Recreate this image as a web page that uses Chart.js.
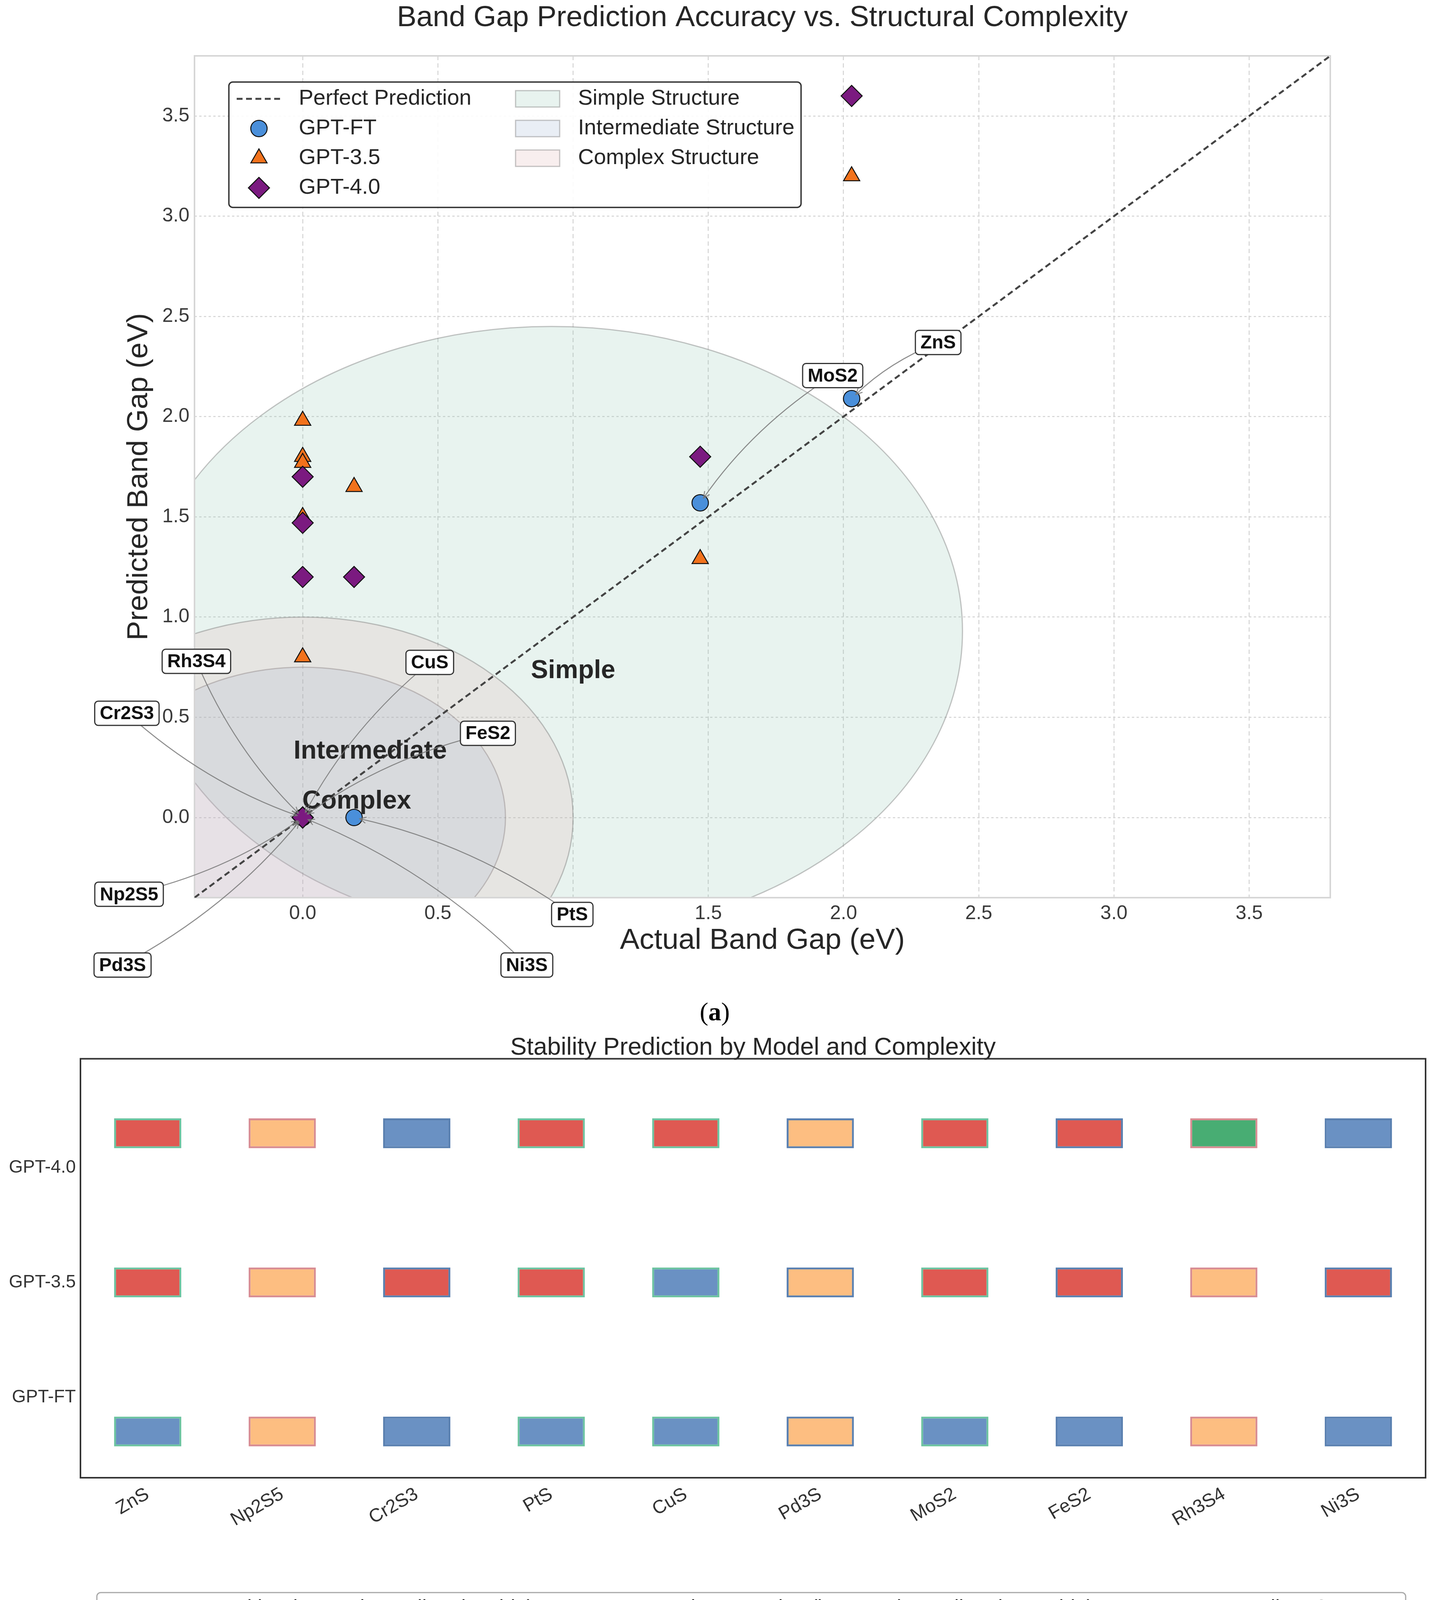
<!DOCTYPE html>
<html>
<head>
<meta charset="utf-8">
<script src="https://cdn.jsdelivr.net/npm/chart.js@4.4.1/dist/chart.umd.min.js"></script>
<style>
  html, body { margin: 0; padding: 0; background: #fff; }
  body { width: 3669px; height: 4475px; position: relative; overflow: hidden; }
  #bandGap { position: absolute; left: 0; top: 0; }
  #stability { position: absolute; left: 0; top: 2600px; }
  .cap { position: absolute; width: 300px; text-align: center; font-family: "Liberation Serif", "DejaVu Serif", serif; font-size: 66px; color: #000; line-height: 1; }
</style>
</head>
<body>
<canvas id="bandGap" width="3669" height="2560"></canvas>
<div class="cap" style="left:1680px; top:2557px;">(<b>a</b>)</div>
<canvas id="stability" width="3669" height="1800"></canvas>
<div class="cap" style="left:1678px; top:4380px;">(<b>b</b>)</div>

<script>
// ---- data: panel (a) ----
const materials = ['ZnS', 'Np2S5', 'Cr2S3', 'PtS', 'CuS', 'Pd3S', 'MoS2', 'FeS2', 'Rh3S4', 'Ni3S'];
const actualGap = [2.03, 0, 0, 0.19, 0, 0, 1.47, 0, 0, 0];
const gptFTGap  = [2.09, 0, 0, 0, 0, 0, 1.57, 0, 0, 0];
const gpt35Gap  = [3.20, 1.98, 1.80, 1.65, 1.77, 1.50, 1.29, 0.80, 0, 0];
const gpt40Gap  = [3.60, 1.70, 1.47, 1.20, 1.20, 0, 1.80, 0, 0, 0];
const gapRange  = [-0.4, 3.8];
const gapTicks  = [0, 0.5, 1.0, 1.5, 2.0, 2.5, 3.0, 3.5];

// structure regions (drawn as circles in data units)
const regionNames   = ['Simple', 'Intermediate', 'Complex'];
const regionCenterX = [0.92, 0, 0];
const regionCenterY = [0.93, 0, 0];
const regionRadius  = [1.52, 0.75, 1.0];

// ---- data: panel (b) ----
const models = ['GPT-FT', 'GPT-3.5', 'GPT-4.0'];
const modelRow = [0, 1, 2];
const modelTick = [0.23, 1, 1.77];
const outcomeGPTFT = ['TN', 'FN', 'TN', 'TN', 'TN', 'FN', 'TN', 'TN', 'FN', 'TN'];
const outcomeGPT35 = ['FP', 'FN', 'FP', 'FP', 'TN', 'FN', 'FP', 'FP', 'FN', 'FP'];
const outcomeGPT40 = ['FP', 'FN', 'TN', 'FP', 'FP', 'FN', 'FP', 'FP', 'TP', 'TN'];
const structure = ['Simple', 'Complex', 'Intermediate', 'Simple', 'Simple', 'Intermediate', 'Simple', 'Intermediate', 'Complex', 'Intermediate'];

// ---- styles ----
const FONT = '"Liberation Sans", Arial, sans-serif';
Chart.defaults.font.family = FONT;
Chart.defaults.color = '#333';

const regionFill = ['rgba(140,195,175,0.2)', 'rgba(144,168,207,0.2)', 'rgba(222,168,169,0.2)'];
const regionText = { Simple: [1.0, 0.73], Intermediate: [0.25, 0.33], Complex: [0.2, 0.08] };
// label box anchor for each material (data units)
const labelAt = {
  ZnS: [2.35, 2.37], MoS2: [1.96, 2.205], Rh3S4: [-0.393, 0.779], CuS: [0.47, 0.774],
  Cr2S3: [-0.65, 0.52], FeS2: [0.685, 0.42], Np2S5: [-0.642, -0.383], PtS: [0.997, -0.484],
  Pd3S: [-0.666, -0.736], Ni3S: [0.829, -0.736]
};
const arrowBend = 0.1;

const outcomeColor = { TP: 'rgba(26,152,80,0.8)', TN: 'rgba(69,117,180,0.8)', FP: 'rgba(215,48,39,0.8)', FN: 'rgba(253,174,97,0.8)' };
const structColor = { Simple: '#6cc3a0', Intermediate: '#5a80b0', Complex: '#d88c92' };

function roundRect(ctx, x, y, w, h, r) {
  ctx.beginPath();
  ctx.moveTo(x + r, y);
  ctx.arcTo(x + w, y, x + w, y + h, r);
  ctx.arcTo(x + w, y + h, x, y + h, r);
  ctx.arcTo(x, y + h, x, y, r);
  ctx.arcTo(x, y, x + w, y, r);
  ctx.closePath();
}

function drawArrow(ctx, x1, y1, x2, y2) {
  const dx = x2 - x1, dy = y2 - y1;
  const cx = (x1 + x2) / 2 - arrowBend * dy, cy = (y1 + y2) / 2 + arrowBend * dx;
  const tx = x2 - cx, ty = y2 - cy, tl = Math.hypot(tx, ty);
  const ex = x2 - tx / tl * 15, ey = y2 - ty / tl * 15;
  ctx.beginPath();
  ctx.moveTo(x1, y1);
  ctx.quadraticCurveTo(cx, cy, ex, ey);
  ctx.stroke();
  const ang = Math.atan2(ty, tx), hl = 18;
  ctx.beginPath();
  ctx.moveTo(ex - hl * Math.cos(ang - 0.45), ey - hl * Math.sin(ang - 0.45));
  ctx.lineTo(ex, ey);
  ctx.lineTo(ex - hl * Math.cos(ang + 0.45), ey - hl * Math.sin(ang + 0.45));
  ctx.stroke();
}

// regions, labels, annotations and legend for panel (a)
const bandGapDecor = {
  id: 'bandGapDecor',
  beforeDatasetsDraw(chart) {
    const { ctx, chartArea: a, scales: { x, y } } = chart;
    ctx.save();
    ctx.beginPath();
    ctx.rect(a.left, a.top, a.width, a.height);
    ctx.clip();
    regionNames.forEach((name, i) => {
      const cx = x.getPixelForValue(regionCenterX[i]);
      const cy = y.getPixelForValue(regionCenterY[i]);
      const rx = Math.abs(x.getPixelForValue(regionCenterX[i] + regionRadius[i]) - cx);
      const ry = Math.abs(y.getPixelForValue(regionCenterY[i] + regionRadius[i]) - cy);
      ctx.beginPath();
      ctx.ellipse(cx, cy, rx, ry, 0, 0, Math.PI * 2);
      ctx.fillStyle = regionFill[i];
      ctx.fill();
      ctx.strokeStyle = 'rgba(110,110,110,0.4)';
      ctx.lineWidth = 3;
      ctx.stroke();
    });
    ctx.restore();
    ctx.save();
    ctx.strokeStyle = '#d6d6d6';
    ctx.lineWidth = 4;
    ctx.strokeRect(a.left, a.top, a.width, a.height);
    ctx.restore();
  },
  afterDatasetsDraw(chart) {
    const { ctx, scales: { x, y } } = chart;
    ctx.save();
    ctx.fillStyle = '#262626';
    ctx.font = 'bold 66px ' + FONT;
    ctx.textAlign = 'center';
    ctx.textBaseline = 'middle';
    Object.entries(regionText).forEach(([t, p]) => {
      ctx.fillText(t, x.getPixelForValue(p[0]), y.getPixelForValue(p[1]));
    });
    // arrows first, then boxes on top
    ctx.strokeStyle = 'rgba(120,120,120,0.85)';
    ctx.lineWidth = 2.5;
    materials.forEach((m, i) => {
      const p = labelAt[m];
      drawArrow(ctx, x.getPixelForValue(p[0]), y.getPixelForValue(p[1]),
        x.getPixelForValue(actualGap[i]), y.getPixelForValue(gptFTGap[i]));
    });
    ctx.font = 'bold 48px ' + FONT;
    materials.forEach((m) => {
      const p = labelAt[m];
      const px = x.getPixelForValue(p[0]), py = y.getPixelForValue(p[1]);
      const w = ctx.measureText(m).width + 26, h = 62;
      roundRect(ctx, px - w / 2, py - h / 2, w, h, 9);
      ctx.fillStyle = '#fff';
      ctx.fill();
      ctx.strokeStyle = '#333';
      ctx.lineWidth = 3;
      ctx.stroke();
      ctx.fillStyle = '#111';
      ctx.fillText(m, px, py + 2);
    });
    ctx.restore();
  },
  afterDraw(chart) {
    const { ctx, chartArea: a } = chart;
    const bx = a.left + 88, by = a.top + 67, bw = 1465, bh = 321;
    ctx.save();
    roundRect(ctx, bx, by, bw, bh, 10);
    ctx.fillStyle = 'rgba(255,255,255,0.9)';
    ctx.fill();
    ctx.strokeStyle = '#333';
    ctx.lineWidth = 3.5;
    ctx.stroke();
    ctx.font = '56px ' + FONT;
    ctx.textBaseline = 'middle';
    ctx.textAlign = 'left';
    const rowY = k => by + 43 + k * 76;
    // perfect prediction line
    ctx.strokeStyle = '#444';
    ctx.lineWidth = 5;
    ctx.setLineDash([15, 9]);
    ctx.beginPath();
    ctx.moveTo(bx + 20, rowY(0));
    ctx.lineTo(bx + 132, rowY(0));
    ctx.stroke();
    ctx.setLineDash([]);
    const ds = chart.data.datasets;
    [1, 2, 3].forEach((d, k) => {
      const o = ds[d];
      ctx.fillStyle = o.backgroundColor;
      ctx.strokeStyle = o.borderColor;
      ctx.lineWidth = o.borderWidth;
      Chart.helpers.drawPoint(ctx, { pointStyle: o.pointStyle, radius: o.pointRadius, rotation: 0, borderWidth: o.borderWidth }, bx + 77, rowY(k + 1));
    });
    ctx.fillStyle = '#262626';
    ['Perfect Prediction', 'GPT-FT', 'GPT-3.5', 'GPT-4.0'].forEach((t, k) => ctx.fillText(t, bx + 179, rowY(k)));
    regionNames.forEach((n, k) => {
      ctx.fillStyle = '#fff';
      ctx.fillRect(bx + 734, rowY(k) - 21, 113, 42);
      ctx.fillStyle = regionFill[k];
      ctx.fillRect(bx + 734, rowY(k) - 21, 113, 42);
      ctx.strokeStyle = 'rgba(110,110,110,0.4)';
      ctx.lineWidth = 3;
      ctx.strokeRect(bx + 734, rowY(k) - 21, 113, 42);
      ctx.fillStyle = '#262626';
      ctx.fillText(n + ' Structure', bx + 894, rowY(k));
    });
    ctx.restore();
  }
};

new Chart(document.getElementById('bandGap'), {
  type: 'scatter',
  data: {
    datasets: [
      { type: 'line', label: 'Perfect Prediction', data: gapRange.map(v => ({ x: v, y: v })),
        borderColor: '#444', borderDash: [15, 9], borderWidth: 5, pointRadius: 0, fill: false, order: 4 },
      { label: 'GPT-FT', data: actualGap.map((v, i) => ({ x: v, y: gptFTGap[i] })),
        pointStyle: 'circle', pointRadius: 21, backgroundColor: '#4a8fda', borderColor: '#111', borderWidth: 2.5, order: 3 },
      { label: 'GPT-3.5', data: actualGap.map((v, i) => ({ x: v, y: gpt35Gap[i] })),
        pointStyle: 'triangle', pointRadius: 24, backgroundColor: '#f2721c', borderColor: '#111', borderWidth: 2.5, order: 2 },
      { label: 'GPT-4.0', data: actualGap.map((v, i) => ({ x: v, y: gpt40Gap[i] })),
        pointStyle: 'rectRot', pointRadius: 27, backgroundColor: '#7b1a80', borderColor: '#111', borderWidth: 2.5, order: 1 }
    ]
  },
  options: {
    responsive: false,
    devicePixelRatio: 1,
    animation: false,
    layout: { padding: { left: 311, right: 263, top: 0, bottom: 107 } },
    plugins: {
      legend: { display: false },
      tooltip: { enabled: false },
      title: {
        display: true, fullSize: false, text: 'Band Gap Prediction Accuracy vs. Structural Complexity',
        color: '#262626', font: { size: 75, weight: 'normal', lineHeight: 1.2 }, padding: { top: 1, bottom: 52 }
      }
    },
    scales: {
      x: {
        type: 'linear', min: gapRange[0], max: gapRange[1],
        afterBuildTicks: s => { s.ticks = gapTicks.map(v => ({ value: v })); },
        afterFit: s => { s.height = 155; },
        ticks: { callback: v => v.toFixed(1), font: { size: 50 }, color: '#3a3a3a', padding: 11 },
        grid: { color: '#d4d4d4', lineWidth: 2.5, drawTicks: false },
        border: { display: false, dash: [11, 8] },
        title: { display: true, text: 'Actual Band Gap (eV)', color: '#262626', font: { size: 75 }, padding: { top: 0, bottom: 0 } }
      },
      y: {
        type: 'linear', min: gapRange[0], max: gapRange[1],
        afterBuildTicks: s => { s.ticks = gapTicks.map(v => ({ value: v })); },
        afterFit: s => { s.width = 187; },
        ticks: { callback: v => v.toFixed(1), font: { size: 50 }, color: '#3a3a3a', padding: 13 },
        grid: { color: '#d4d4d4', lineWidth: 2.5, drawTicks: false },
        border: { display: false, dash: [6, 6] },
        title: { display: true, text: 'Predicted Band Gap (eV)', color: '#262626', font: { size: 75 }, padding: { top: 0, bottom: 0 } }
      }
    }
  },
  plugins: [bandGapDecor]
});

// ---- panel (b) ----
const cellHalf = 0.1;
const outcomesByModel = [outcomeGPTFT, outcomeGPT35, outcomeGPT40];

const stabilityDecor = {
  id: 'stabilityDecor',
  afterDraw(chart) {
    const { ctx, chartArea: a } = chart;
    ctx.save();
    ctx.strokeStyle = '#333';
    ctx.lineWidth = 4;
    ctx.strokeRect(a.left, a.top, a.width, a.height);
    // legend
    const bx = 248, by = 1477, bw = 3351, bh = 246;
    roundRect(ctx, bx, by, bw, bh, 10);
    ctx.fillStyle = '#fff';
    ctx.fill();
    ctx.strokeStyle = '#a8a8a8';
    ctx.lineWidth = 3;
    ctx.stroke();
    const items = [
      [270, 0, 'fill', '#1a9850', 'True Positive (correctly predicted stable)'],
      [270, 1, 'fill', '#4575b4', 'True Negative (correctly predicted unstable)'],
      [270, 2, 'fill', '#d73027', 'False Positive (incorrectly predicted stable)'],
      [1557, 0, 'fill', '#fdae61', 'False Negative (incorrectly predicted unstable)'],
      [1557, 1, 'line', structColor.Simple, 'Simple Structure'],
      [2906, 0, 'line', structColor.Intermediate, 'Intermediate Structure'],
      [2906, 1, 'line', structColor.Complex, 'Complex Structure']
    ];
    ctx.font = '53px ' + FONT;
    ctx.textBaseline = 'middle';
    ctx.textAlign = 'left';
    items.forEach(([px, row, kind, col, text]) => {
      const cy = by + 41 + row * 77;
      if (kind === 'fill') {
        ctx.fillStyle = col;
        ctx.fillRect(px, cy - 18, 106, 36);
      } else {
        ctx.strokeStyle = col;
        ctx.lineWidth = 4;
        ctx.strokeRect(px + 2, cy - 16, 102, 32);
      }
      ctx.fillStyle = '#262626';
      ctx.fillText(text, px + 150, cy);
    });
    ctx.restore();
  }
};

new Chart(document.getElementById('stability'), {
  type: 'bar',
  data: {
    labels: materials,
    datasets: models.map((m, k) => ({
      label: m,
      data: materials.map(() => [modelRow[k] - cellHalf, modelRow[k] + cellHalf]),
      backgroundColor: outcomesByModel[k].map(o => outcomeColor[o]),
      borderColor: structure.map(s => structColor[s]),
      borderWidth: 5,
      borderSkipped: false
    }))
  },
  options: {
    responsive: false,
    devicePixelRatio: 1,
    animation: false,
    layout: { padding: { left: 0, right: 19, top: 0, bottom: 417 } },
    datasets: { bar: { grouped: false, barPercentage: 0.5, categoryPercentage: 1 } },
    plugins: {
      legend: { display: false },
      tooltip: { enabled: false },
      title: {
        display: true, fullSize: false, text: 'Stability Prediction by Model and Complexity',
        color: '#262626', font: { size: 63, weight: 'normal', lineHeight: 0.88 }, padding: { top: 55, bottom: 0 }
      }
    },
    scales: {
      x: {
        type: 'category', offset: true,
        grid: { display: false, drawTicks: false },
        border: { display: false },
        afterFit: s => { s.height = 200; },
        ticks: { font: { size: 48 }, color: '#333', minRotation: 30, maxRotation: 30, padding: 14 }
      },
      y: {
        type: 'linear', min: -0.31, max: 2.5,
        grid: { display: false, drawTicks: false },
        border: { display: false },
        afterBuildTicks: s => { s.ticks = modelTick.map(v => ({ value: v })); },
        afterFit: s => { s.width = 206; },
        ticks: { font: { size: 46 }, color: '#333', padding: 12, callback: v => models[modelTick.indexOf(v)] }
      }
    }
  },
  plugins: [stabilityDecor]
});
</script>
</body>
</html>
